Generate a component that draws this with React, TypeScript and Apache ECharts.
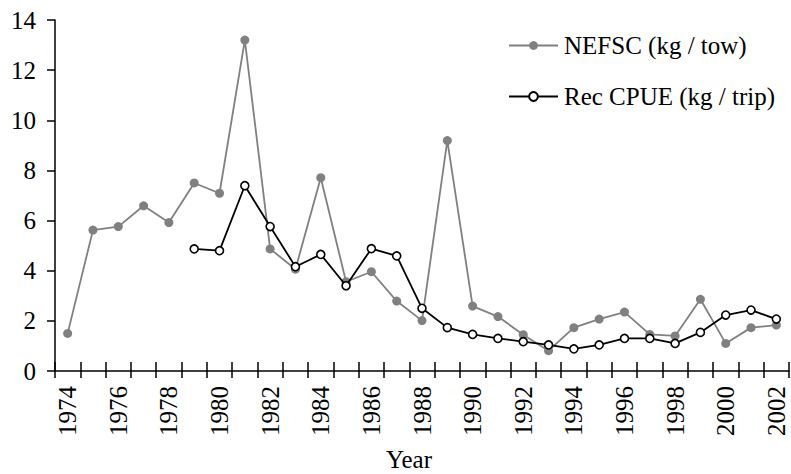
import React, { useEffect, useRef } from "react";
import * as echarts from "echarts";

const years = [
  "1974","1975","1976","1977","1978","1979","1980","1981","1982","1983",
  "1984","1985","1986","1987","1988","1989","1990","1991","1992","1993",
  "1994","1995","1996","1997","1998","1999","2000","2001","2002",
];

const nefsc = [
  1.5, 5.62, 5.76, 6.59, 5.92, 7.5, 7.09, 13.2, 4.87, 4.06,
  7.71, 3.56, 3.96, 2.79, 2.01, 9.19, 2.59, 2.17, 1.45, 0.81,
  1.73, 2.07, 2.35, 1.46, 1.4, 2.86, 1.1, 1.73, 1.83,
];

const recCpue = [
  null, null, null, null, null, 4.87, 4.8, 7.39, 5.76, 4.16,
  4.65, 3.4, 4.88, 4.59, 2.5, 1.73, 1.46, 1.3, 1.17, 1.04,
  0.88, 1.04, 1.3, 1.3, 1.1, 1.54, 2.23, 2.43, 2.07,
];

const seriesNames = ["NEFSC (kg / tow)", "Rec CPUE (kg / trip)"];

const FONT = "'Liberation Serif', 'Times New Roman', serif";

export default function App() {
  const ref = useRef<HTMLDivElement>(null);
  useEffect(() => {
    document.body.style.margin = "0";
    if (!ref.current) return;
    const chart = echarts.init(ref.current, null, { renderer: "svg" });
    chart.setOption({
      animation: false,
      backgroundColor: "#fff",
      textStyle: { fontFamily: FONT, color: "#000" },
      grid: { left: 55, right: 2, top: 20, bottom: 103, outerBoundsMode: "none", containLabel: false },
      legend: {
        orient: "vertical",
        left: 508,
        top: 33,
        padding: 0,
        itemWidth: 49,
        itemHeight: 11,
        itemGap: 26,
        textStyle: { fontFamily: FONT, fontSize: 25, color: "#000", padding: [0, 0, 0, 1] },
        data: seriesNames,
      },
      xAxis: [
        {
          type: "category",
          data: years,
          position: "bottom",
          boundaryGap: true,
          name: "Year",
          nameLocation: "middle",
          nameGap: 76,
          nameTextStyle: { fontFamily: FONT, fontSize: 25, color: "#000", padding: [0, 26, 0, 0] },
          axisLine: { show: true, lineStyle: { color: "#000", width: 1.5 } },
          axisTick: { show: true, interval: 0, length: 7, lineStyle: { color: "#000", width: 1.5 } },
          axisLabel: {
            interval: 1,
            rotate: 90,
            margin: 15,
            fontFamily: FONT,
            fontSize: 25,
            color: "#000",
          },
          splitLine: { show: false },
        },
        {
          type: "category",
          data: years,
          position: "bottom",
          boundaryGap: true,
          axisLine: { show: false },
          axisTick: { show: true, inside: true, interval: 0, length: 9, lineStyle: { color: "#000", width: 1.5 } },
          axisLabel: { show: false },
          splitLine: { show: false },
        },
      ],
      yAxis: {
        type: "value",
        min: 0,
        max: 14,
        interval: 2,
        axisLine: { show: true, lineStyle: { color: "#000", width: 1.5 } },
        axisTick: { show: true, length: 8, lineStyle: { color: "#000", width: 1.5 } },
        axisLabel: { margin: 19, fontFamily: FONT, fontSize: 25, color: "#000" },
        splitLine: { show: false },
      },
      series: [
        {
          name: seriesNames[0],
          type: "line",
          data: nefsc,
          symbol: "circle",
          symbolSize: 9,
          lineStyle: { color: "#808080", width: 1.8 },
          itemStyle: { color: "#808080" },
          z: 2,
        },
        {
          name: seriesNames[1],
          type: "line",
          data: recCpue,
          connectNulls: false,
          symbol: "circle",
          symbolSize: 8,
          lineStyle: { color: "#000", width: 1.8 },
          itemStyle: { color: "#fff", borderColor: "#000", borderWidth: 1.6 },
          z: 3,
        },
      ],
    });
    return () => chart.dispose();
  }, []);
  return <div ref={ref} style={{ width: 791, height: 474 }} />;
}
